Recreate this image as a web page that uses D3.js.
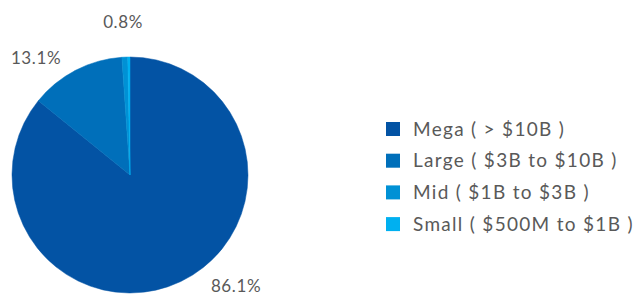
<!DOCTYPE html>
<html>
<head>
<meta charset="utf-8">
<script src="https://cdn.jsdelivr.net/npm/d3@7"></script>
<style>
  body { margin: 0; background: #fff; }
  svg { display: block; }
</style>
</head>
<body>
<svg id="chart" width="636" height="297"></svg>
<script>
const categories = ["Mega ( > $10B )", "Large ( $3B to $10B )", "Mid ( $1B to $3B )", "Small ( $500M to $1B )"];
const shares = [86.1, 13.1, 0.8, 0.3];
const labels = ["86.1%", "13.1%", "0.8%", ""];

const COLORS = d3.scaleOrdinal(categories, ["#0353a4", "#006fba", "#0091d5", "#00b0f0"]);

// where Excel put the data labels, relative to the pie centre
const LABEL_POS = [[106, 111], [-94, -117], [-7, -153], [0, 0]];

const svg = d3.select("#chart");
const cx = 130, cy = 175, radius = 118;

const pie = d3.pie().sort(null).value(d => d.value);
const arcs = pie(categories.map((c, i) => ({ name: c, value: shares[i], label: labels[i], i })));
const path = d3.arc().innerRadius(0).outerRadius(radius);

const g = svg.append("g").attr("transform", `translate(${cx},${cy})`);

g.selectAll("path")
  .data(arcs)
  .enter()
  .append("path")
  .attr("d", path)
  .attr("fill", d => COLORS(d.data.name))
  .attr("stroke", d => COLORS(d.data.name))
  .attr("stroke-width", 0.5);

g.selectAll("text")
  .data(arcs.filter(d => d.data.label))
  .enter()
  .append("text")
  .attr("x", d => LABEL_POS[d.data.i][0])
  .attr("y", d => LABEL_POS[d.data.i][1])
  .attr("dy", "0.35em")
  .attr("text-anchor", "middle")
  .attr("font-family", "Lato, 'Noto Sans', sans-serif")
  .attr("font-size", 17)
  .attr("letter-spacing", 0.6)
  .attr("fill", "#595959")
  .text(d => d.data.label);

// legend
const legend = svg.append("g").attr("transform", "translate(386,129)");
const row = legend.selectAll("g")
  .data(categories)
  .enter()
  .append("g")
  .attr("transform", (d, i) => `translate(0,${i * 31.7})`);

row.append("rect")
  .attr("x", 0)
  .attr("y", -7)
  .attr("width", 14)
  .attr("height", 14)
  .attr("fill", d => COLORS(d));

row.append("text")
  .attr("x", 27)
  .attr("dy", "0.35em")
  .attr("font-family", "Lato, 'Noto Sans', sans-serif")
  .attr("font-size", 19)
  .attr("letter-spacing", 1.3)
  .attr("fill", "#595959")
  .text(d => d);
</script>
</body>
</html>
